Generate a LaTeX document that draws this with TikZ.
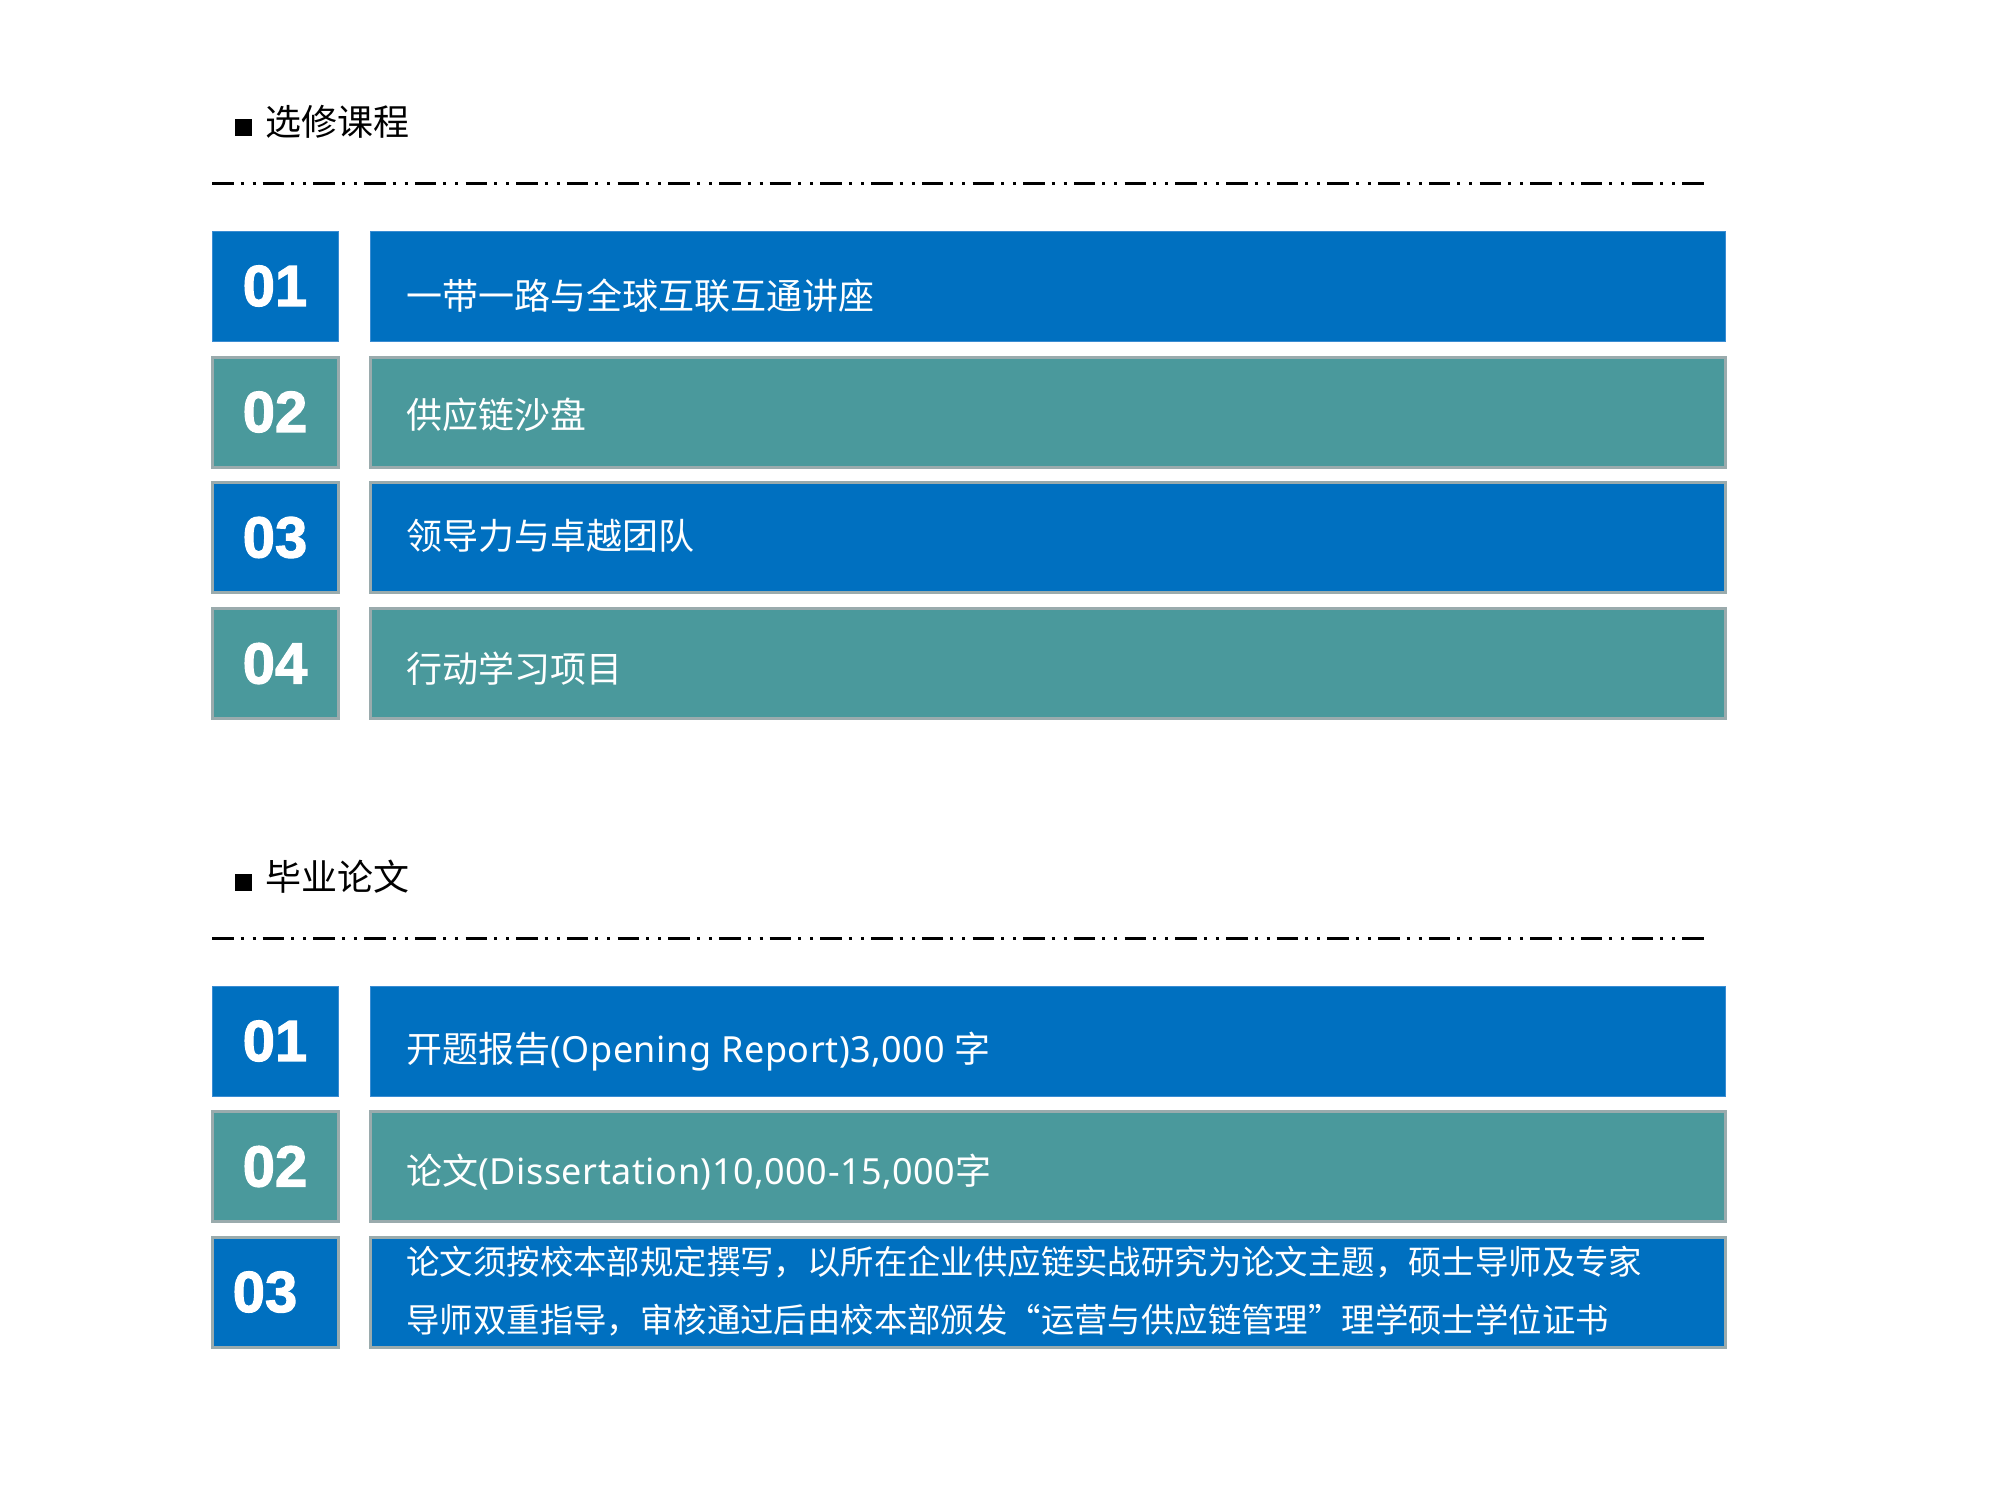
\documentclass[tikz,border=0pt]{standalone}
\usepackage{fontspec}
\newfontfamily\cjk{Noto Sans CJK SC}
\newfontfamily\cjkq{Noto Sans CJK SC}[RawFeature=+fwid]
\newfontfamily\latf{Noto Sans}[LetterSpace=1.5]
\newfontfamily\numf{Liberation Sans}[BoldFeatures={FakeBold=2}]
\definecolor{myblue}{HTML}{0070C0}
\definecolor{mybluebd}{HTML}{3A8CD2}
\definecolor{myteal}{HTML}{4A999C}
\definecolor{mygreybd}{HTML}{9AABAD}
\tikzset{
  px/.style={x=0.5pt,y=-0.5pt},
  boxbase/.style={inner sep=0pt, outer sep=0pt, minimum height=55pt},
  numbox/.style={boxbase, minimum width=63pt, text=white, font=\numf\bfseries\fontsize{29pt}{29pt}\selectfont},
  barbox/.style={boxbase, minimum width=677.5pt},
  blueA/.style={fill=myblue, draw=mybluebd, line width=0.5pt},
  blueB/.style={fill=myblue, draw=mygreybd, line width=1.5pt},
  tealB/.style={fill=myteal, draw=mygreybd, line width=1.5pt},
  bartext/.style={anchor=west, inner sep=0pt, text=white, text height=0.88em, text depth=0.12em, font=\cjk\fontsize{18pt}{18pt}\selectfont},
  bartextsm/.style={bartext, font=\cjkq\fontsize{16.7pt}{16.7pt}\selectfont},
  heading/.style={anchor=west, inner sep=0pt, text=black, text height=0.88em, text depth=0.12em, font=\cjk\fontsize{18pt}{18pt}\selectfont},
  bullet/.style={fill=black, inner sep=0pt, minimum size=8.5pt},
  sepline/.style={line width=1.5pt, dash pattern=on 10.75pt off 3.5pt on 1.5pt off 4.5pt on 1.5pt off 3.6pt}
}
\begin{document}
\begin{tikzpicture}[px]
\useasboundingbox[fill=white] (0,0) rectangle (2000,1500);

% ---- Section 1 ----
\node[bullet] (b1) at (243.5,127) {};
\node[heading] (h1) at (265,128) {选修课程};
\coordinate (d1a) at (212,183);
\coordinate (d1b) at (1704,183);
\draw[sepline] (d1a) -- (d1b);

\node[numbox, blueA] (n11) at (275,286) {01};
\node[barbox, blueA] (r11) at (1047.5,286) {};
\node[bartext] (t11) at (406,302) {一带一路与全球互联互通讲座};

\node[numbox, tealB] (n12) at (275,412) {02};
\node[barbox, tealB] (r12) at (1047.5,412) {};
\node[bartext] (t12) at (406,421) {供应链沙盘};

\node[numbox, blueB] (n13) at (275,537.5) {03};
\node[barbox, blueB] (r13) at (1047.5,537.5) {};
\node[bartext] (t13) at (406,542) {领导力与卓越团队};

\node[numbox, tealB] (n14) at (275,663.5) {04};
\node[barbox, tealB] (r14) at (1047.5,663.5) {};
\node[bartext] (t14) at (406,675) {行动学习项目};

% ---- Section 2 ----
\node[bullet] (b2) at (243.5,882) {};
\node[heading] (h2) at (265,883) {毕业论文};
\coordinate (d2a) at (212,938);
\coordinate (d2b) at (1704,938);
\draw[sepline] (d2a) -- (d2b);

\node[numbox, blueA] (n21) at (275,1041) {01};
\node[barbox, blueA] (r21) at (1047.5,1041) {};
\node[bartext] (t21) at (406,1055) {开题报告{\latf(Opening Report)3,000 }字};

\node[numbox, tealB] (n22) at (275,1166.5) {02};
\node[barbox, tealB] (r22) at (1047.5,1166.5) {};
\node[bartext] (t22) at (406,1177) {论文{\latf(Dissertation)10,000-15,000}字};

\node[numbox, blueB] (n23) at (275,1292) {};
\node[inner sep=0pt, text=white, font=\numf\bfseries\fontsize{29pt}{29pt}\selectfont] (n23t) at (265,1292) {03};
\node[barbox, blueB] (r23) at (1047.5,1292) {};
\node[bartextsm] (t23a) at (406,1267) {论文须按校本部规定撰写，以所在企业供应链实战研究为论文主题，硕士导师及专家};
\node[bartextsm] (t23b) at (406,1325) {导师双重指导，审核通过后由校本部颁发“运营与供应链管理”理学硕士学位证书};
\end{tikzpicture}
\end{document}
